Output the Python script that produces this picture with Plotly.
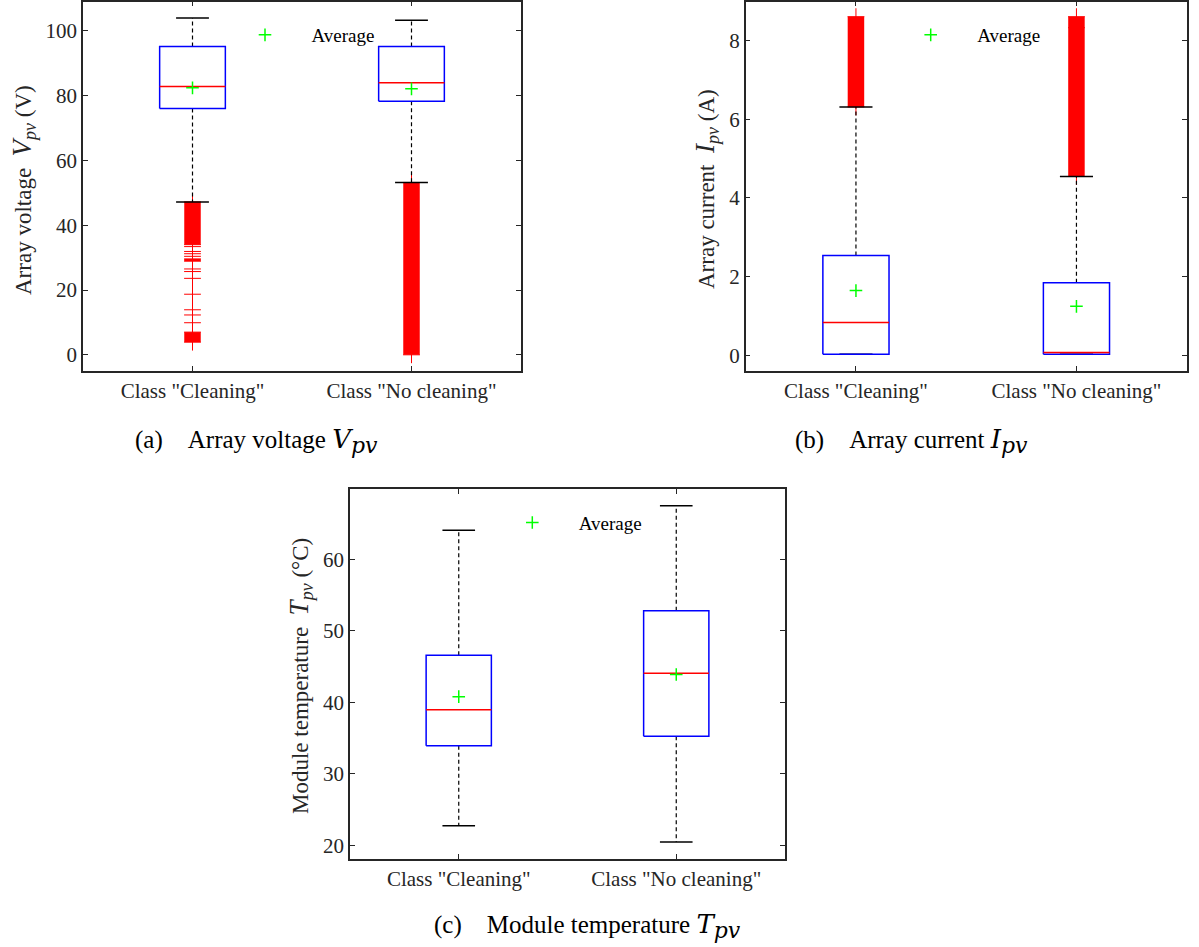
import plotly.graph_objects as go

W, H = 1199, 947

categories = ['Class "Cleaning"', 'Class "No cleaning"']
positions = [1, 2]

# (a) Array voltage V_pv
v_q1 = [76.0, 78.3]
v_med = [82.8, 84.0]
v_q3 = [95.2, 95.2]
v_lo = [47.2, 53.2]
v_hi = [104.0, 103.3]
v_mean = [82.4, 82.1]
v_out_bands = [[(34.0, 47.2), (28.9, 29.6), (3.9, 7.0)], [(0.0, 53.2)]]
v_out_points = [[47.2, 34.0, 33.4, 31.9, 31.2, 30.4, 29.6, 28.9, 26.5, 25.7, 23.6, 18.7,
                 13.9, 12.3, 9.9, 7.0, 3.9], [53.2, 0.0]]

# (b) Array current I_pv
i_q1 = [0.035, 0.035]
i_med = [0.84, 0.077]
i_q3 = [2.54, 1.85]
i_lo = [0.035, 0.035]
i_hi = [6.31, 4.545]
i_mean = [1.65, 1.25]
i_out_bands = [[(6.31, 8.60)], [(4.545, 8.60)]]
i_out_points = [[6.31, 8.60], [4.545, 8.32, 8.60]]

# (c) Module temperature T_pv
t_q1 = [33.93, 35.24]
t_med = [38.97, 44.06]
t_q3 = [46.57, 52.81]
t_lo = [22.74, 20.46]
t_hi = [64.06, 67.5]
t_mean = [40.79, 43.9]
t_out_bands = [[], []]
t_out_points = [[], []]

FONT = "Liberation Serif"
MATH = "DejaVu Serif"
AX = "#262626"
BOX_HW = 0.15
CAP_HW = 0.075

fig = go.Figure()


def add_panel(xr, yr, legend, q1, med, q3, lo, hi, mean, bands, points):
    for c, bl, pts in zip(positions, bands, points):
        for (b0, b1) in bl:
            fig.add_trace(go.Scatter(x=[c, c], y=[b0, b1], mode="lines",
                                     line=dict(color="#ff0000", width=16.5),
                                     xaxis=xr, yaxis=yr, showlegend=False, hoverinfo="skip"))
        if pts:
            fig.add_trace(go.Scatter(x=[c] * len(pts), y=pts, mode="markers",
                                     marker=dict(symbol="cross-thin", size=12, color="#ff0000",
                                                 line=dict(color="#ff0000", width=1)),
                                     xaxis=xr, yaxis=yr, showlegend=False, hoverinfo="skip"))
    for c, a1, a3, l, h in zip(positions, q1, q3, lo, hi):
        fig.add_trace(go.Scatter(x=[c, c, None, c, c], y=[a3, h, None, a1, l], mode="lines",
                                 line=dict(color="black", width=1.2, dash="4px,3px"),
                                 xaxis=xr, yaxis=yr, showlegend=False, hoverinfo="skip"))
        fig.add_trace(go.Scatter(x=[c - CAP_HW, c + CAP_HW, None, c - CAP_HW, c + CAP_HW],
                                 y=[h, h, None, l, l], mode="lines",
                                 line=dict(color="black", width=1.5),
                                 xaxis=xr, yaxis=yr, showlegend=False, hoverinfo="skip"))
    for c, a1, m, a3 in zip(positions, q1, med, q3):
        fig.add_trace(go.Scatter(x=[c - BOX_HW, c + BOX_HW, c + BOX_HW, c - BOX_HW, c - BOX_HW],
                                 y=[a1, a1, a3, a3, a1], mode="lines",
                                 line=dict(color="#0000ff", width=1.5),
                                 xaxis=xr, yaxis=yr, showlegend=False, hoverinfo="skip"))
        fig.add_trace(go.Scatter(x=[c - BOX_HW, c + BOX_HW], y=[m, m], mode="lines",
                                 line=dict(color="#ff0000", width=1.5),
                                 xaxis=xr, yaxis=yr, showlegend=False, hoverinfo="skip"))
    fig.add_trace(go.Scatter(x=positions, y=mean, mode="markers", name="Average",
                             marker=dict(symbol="cross-thin", size=9, color="#00ff00",
                                         line=dict(color="#00ff00", width=1.5)),
                             xaxis=xr, yaxis=yr, showlegend=True, legend=legend))


add_panel("x", "y", "legend", v_q1, v_med, v_q3, v_lo, v_hi, v_mean, v_out_bands, v_out_points)
add_panel("x2", "y2", "legend2", i_q1, i_med, i_q3, i_lo, i_hi, i_mean, i_out_bands, i_out_points)
add_panel("x3", "y3", "legend3", t_q1, t_med, t_q3, t_lo, t_hi, t_mean, t_out_bands, t_out_points)


def px_x(p):
    return p / W


def px_y(p):
    return 1 - p / H


def xaxis(dom, anchor):
    return dict(domain=[px_x(dom[0]), px_x(dom[1])], anchor=anchor, range=[0.5, 2.5],
                tickvals=positions, ticktext=categories, ticks="inside", ticklen=5,
                tickcolor=AX, tickwidth=1, showline=True, linecolor=AX, linewidth=1.5,
                mirror="ticks", showgrid=False, zeroline=False,
                tickfont=dict(family=FONT, size=21, color=AX), fixedrange=True)


def yaxis(dom, anchor, rng, tv):
    return dict(domain=[px_y(dom[1]), px_y(dom[0])], anchor=anchor, range=rng,
                tickvals=tv, ticks="inside", ticklen=5, tickcolor=AX, tickwidth=1,
                showline=True, linecolor=AX, linewidth=1.5, mirror="ticks",
                showgrid=False, zeroline=False,
                tickfont=dict(family=FONT, size=21, color=AX), fixedrange=True)


legend_common = dict(font=dict(family=FONT, size=19, color="black"), bgcolor="rgba(0,0,0,0)",
                     borderwidth=0, itemwidth=83, xanchor="left", yanchor="middle",
                     itemclick=False, itemdoubleclick=False)


def ysym(s):
    return ("<span style='font-size:27px'><i>%s</i></span>"
            "<sub><span style='font-size:18px'><i>pv</i></span></sub>" % s)


def csym(s):
    return ("<span style='font-family:%s;font-size:26px'><i>%s</i></span>"
            "<sub><span style='font-family:%s;font-size:22px'><i>pv</i></span></sub>"
            % (MATH, s, MATH))


NB = "\u00a0"
annotations = []
ytitles = [
    ("Array voltage" + NB * 2 + ysym("V") + NB + "(V)", 23, 190),
    ("Array current" + NB * 2 + ysym("I") + NB + "(A)", 706, 189),
    ("Module temperature" + NB * 2 + ysym("T") + NB + "(°C)", 300, 676),
]
for txt, xp, yp in ytitles:
    annotations.append(dict(text=txt, x=px_x(xp), y=px_y(yp), xref="paper", yref="paper",
                            showarrow=False, textangle=-90, xanchor="center", yanchor="middle",
                            font=dict(family=FONT, size=23, color=AX)))
captions = [
    ("(a)" + NB * 4 + "Array voltage " + csym("V"), 133, 441),
    ("(b)" + NB * 4 + "Array current " + csym("I"), 793, 441),
    ("(c)" + NB * 4 + "Module temperature " + csym("T"), 432, 926),
]
for txt, xp, yp in captions:
    annotations.append(dict(text=txt, x=px_x(xp), y=px_y(yp), xref="paper", yref="paper",
                            showarrow=False, xanchor="left", yanchor="middle",
                            font=dict(family=FONT, size=25, color="black")))

fig.update_layout(
    width=W, height=H, margin=dict(l=0, r=0, t=0, b=0),
    paper_bgcolor="white", plot_bgcolor="white",
    xaxis=xaxis((83, 521), "y"), yaxis=yaxis((1.7, 371), "x", [-5, 109], [0, 20, 40, 60, 80, 100]),
    xaxis2=xaxis((745.7, 1186.7), "y2"),
    yaxis2=yaxis((1.7, 371), "x2", [-0.39, 8.98], [0, 2, 4, 6, 8]),
    xaxis3=xaxis((350, 785), "y3"),
    yaxis3=yaxis((489.3, 859), "x3", [18.08, 69.8], [20, 30, 40, 50, 60]),
    legend=dict(x=px_x(265 - 46.5), y=px_y(35), **legend_common),
    legend2=dict(x=px_x(930.7 - 46.5), y=px_y(35), **legend_common),
    legend3=dict(x=px_x(532.3 - 46.5), y=px_y(522.7), **legend_common),
    annotations=annotations,
    showlegend=True,
)

fig.write_html("out.html")
